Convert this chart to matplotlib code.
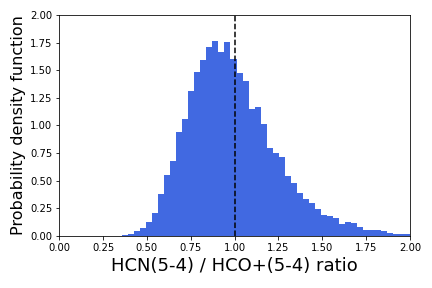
import numpy as np
import matplotlib
matplotlib.use('Agg')
import matplotlib.pyplot as plt

# histogram binning and densities
bin_start = 0.3587
bin_width = 0.03433
density = [0.009, 0.018, 0.040, 0.068, 0.122, 0.210, 0.380, 0.552, 0.679, 0.941,
           1.059, 1.312, 1.484, 1.593, 1.710, 1.765, 1.665, 1.756, 1.600, 1.475,
           1.403, 1.149, 1.167, 1.014, 0.796, 0.751, 0.715, 0.543, 0.480, 0.389,
           0.335, 0.299, 0.244, 0.190, 0.181, 0.163, 0.109, 0.127, 0.118, 0.081,
           0.054, 0.054, 0.054, 0.045, 0.027, 0.018, 0.018, 0.018]
ref_ratio = 1.0

edges = bin_start + bin_width * np.arange(len(density) + 1)
centers = 0.5 * (edges[:-1] + edges[1:])

fig = plt.figure(figsize=(6, 4), dpi=72)
ax = fig.add_axes([0.137, 0.181, 0.812, 0.767])

ax.hist(centers, bins=edges, weights=density, color='royalblue')
ax.axvline(ref_ratio, color='k', linestyle='--')

ax.set_xlim(0, 2)
ax.set_ylim(0, 2)
ax.set_xticks(np.arange(0, 2.01, 0.25))
ax.set_yticks(np.arange(0, 2.01, 0.25))
ax.tick_params(labelsize=10)
ax.set_xlabel('HCN(5-4) / HCO+(5-4) ratio', fontsize=18)
ax.set_ylabel('Probability density function', fontsize=16)

plt.savefig('out.png', dpi=72)
